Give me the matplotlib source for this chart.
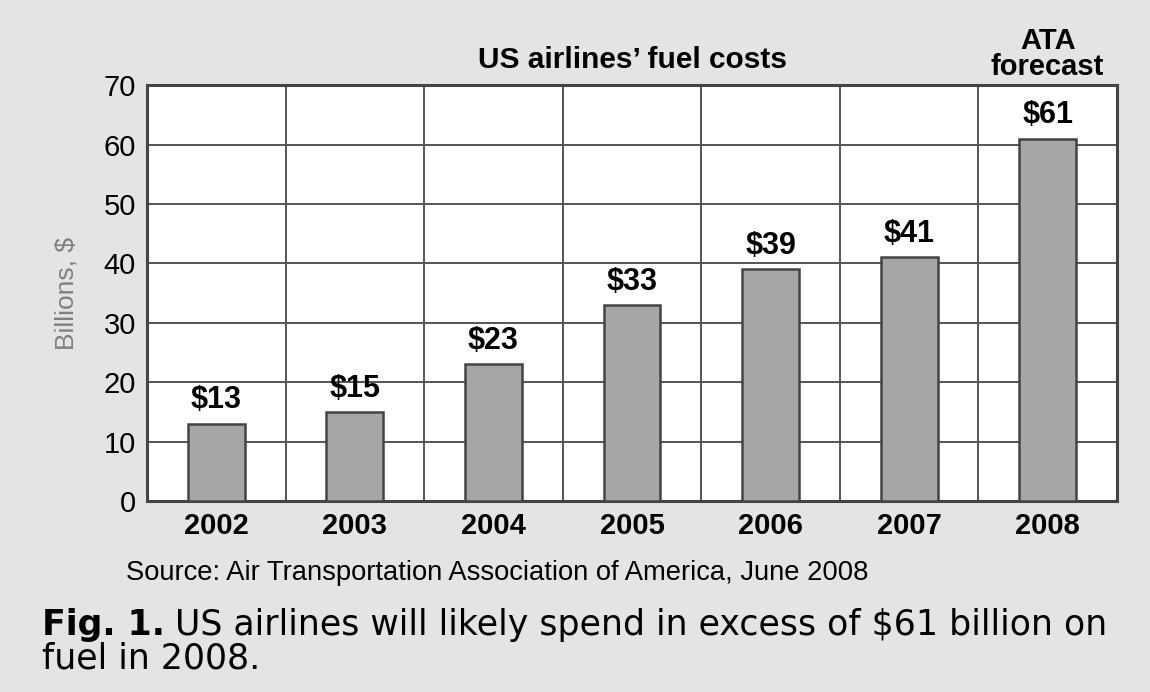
import matplotlib
matplotlib.use('Agg')
import matplotlib.pyplot as plt

plt.rcParams['font.family'] = ['Liberation Sans', 'DejaVu Sans']

# data
years = ['2002', '2003', '2004', '2005', '2006', '2007', '2008']
costs = [13, 15, 23, 33, 39, 41, 61]
labels = ['$13', '$15', '$23', '$33', '$39', '$41', '$61']
yticks = [0, 10, 20, 30, 40, 50, 60, 70]

fig = plt.figure(figsize=(11.5, 6.92), dpi=100)
fig.patch.set_facecolor('#e4e4e4')
ax = fig.add_axes([0.1278, 0.276, 0.8435, 0.601])
ax.set_facecolor('white')

x = list(range(len(years)))
ax.bar(x, costs, width=0.41, color='#a6a6a6', edgecolor='#444444', linewidth=1.8, zorder=3)

for xi, v, lab in zip(x, costs, labels):
    ax.text(xi, v + 1.4, lab, ha='center', va='bottom', fontsize=22, fontweight='bold', zorder=4)

ax.set_xlim(-0.5, len(years) - 0.5)
ax.set_ylim(0, 70)
ax.set_yticks(yticks)
ax.set_yticklabels([str(t) for t in yticks], fontsize=21)
ax.set_xticks(x)
ax.set_xticklabels(years, fontsize=21, fontweight='bold')
ax.tick_params(axis='both', length=0, pad=8)

# horizontal grid + vertical separators between categories
for t in yticks[1:-1]:
    ax.axhline(t, color='#555555', linewidth=1.4, zorder=1)
for b in range(1, len(years)):
    ax.axvline(b - 0.5, color='#555555', linewidth=1.4, zorder=1)
for s in ax.spines.values():
    s.set_color('#444444')
    s.set_linewidth(2.2)

ax.set_ylabel('Billions, $', fontsize=19, color='#808080', labelpad=18)

fig.text(0.55, 0.913, 'US airlines\u2019 fuel costs', ha='center', va='center', fontsize=21.5, fontweight='bold')
fig.text(0.911, 0.922, 'ATA\nforecast', ha='center', va='center', fontsize=21, fontweight='bold', linespacing=0.95)

fig.text(0.11, 0.172, 'Source: Air Transportation Association of America, June 2008', ha='left', va='center', fontsize=19.7)

# caption: bold "Fig. 1." followed by regular text
fig.canvas.draw()
r = fig.canvas.get_renderer()
t1 = fig.text(0.0365, 0.097, 'Fig. 1.', ha='left', va='center', fontsize=25, fontweight='bold', family='DejaVu Sans')
bb = t1.get_window_extent(renderer=r)
x2 = bb.x1 / fig.bbox.width + 0.009
fig.text(x2, 0.097, 'US airlines will likely spend in excess of $61 billion on', ha='left', va='center', fontsize=25, family='DejaVu Sans')
fig.text(0.0365, 0.049, 'fuel in 2008.', ha='left', va='center', fontsize=25, family='DejaVu Sans')

fig.savefig('out.png', dpi=100, facecolor=fig.get_facecolor())
